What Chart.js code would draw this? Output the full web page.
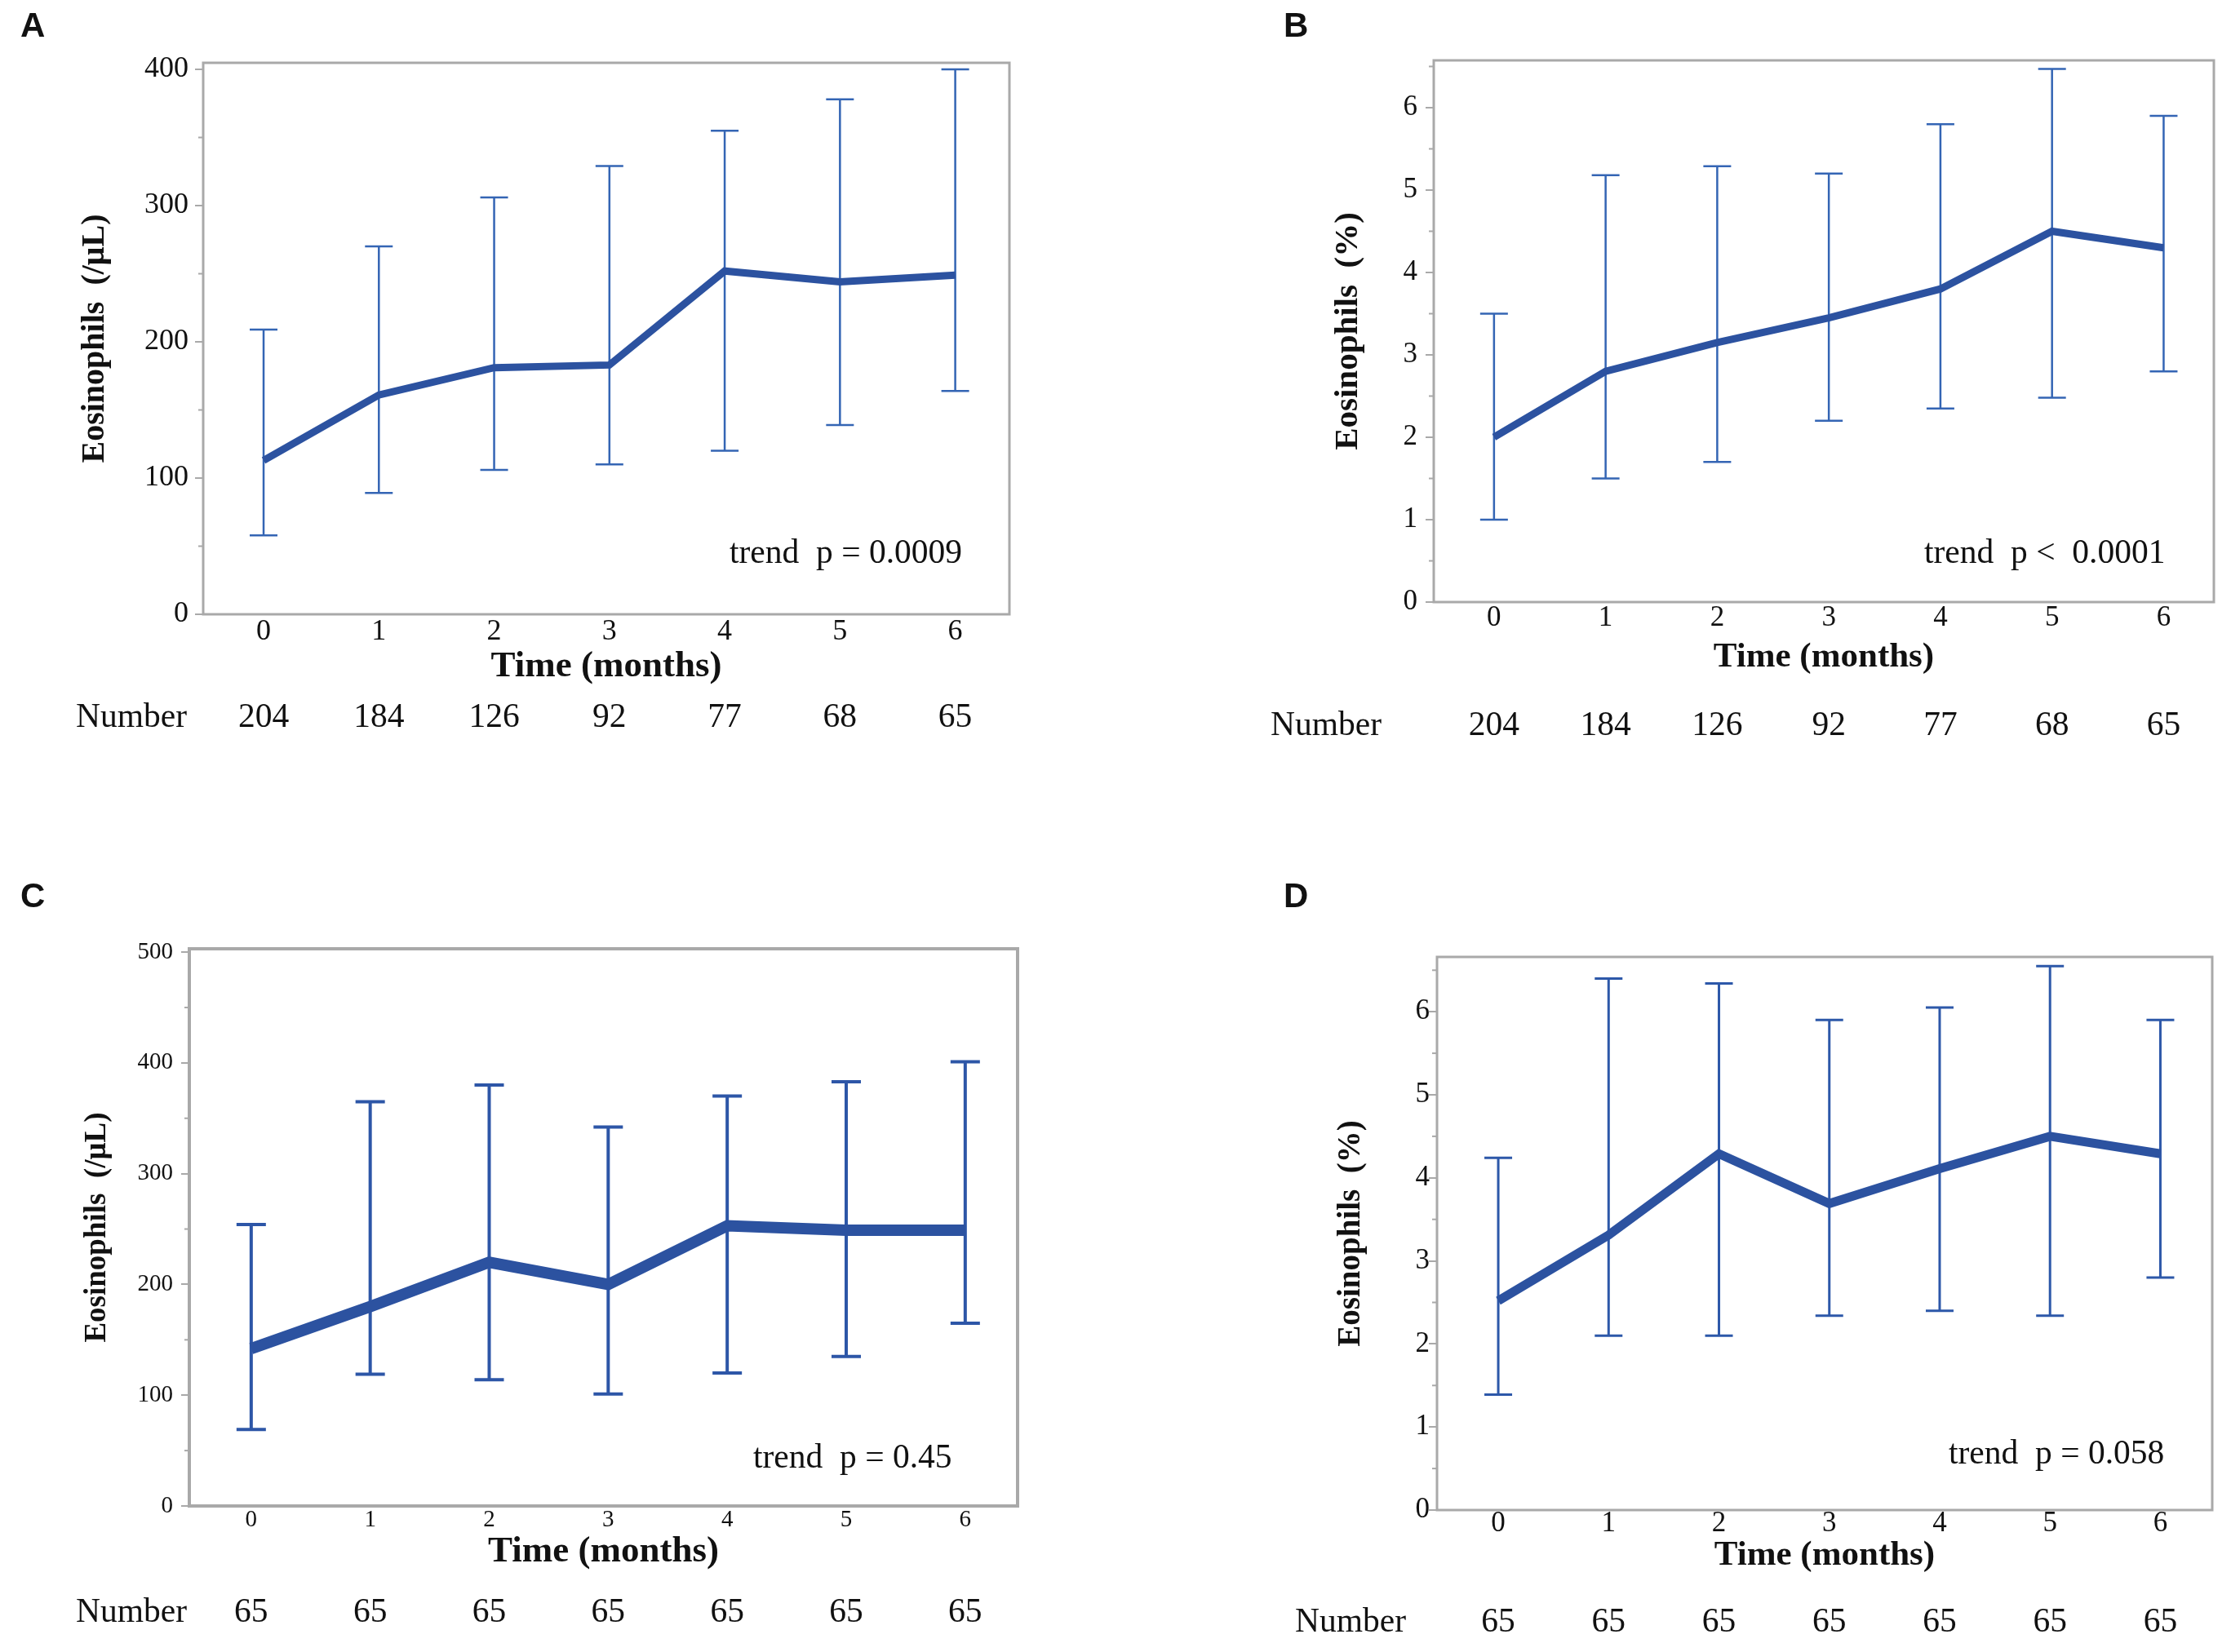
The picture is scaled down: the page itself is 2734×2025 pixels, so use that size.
<!DOCTYPE html>
<html lang="en">
<head>
<meta charset="UTF-8">
<title>Eosinophils over time</title>
<style>
  html, body { margin: 0; padding: 0; background: #fff; }
  #page { position: relative; width: 2734px; height: 2025px; overflow: hidden; }
  canvas { position: absolute; }
</style>
</head>
<body>
<div id="page">
  <canvas id="chartA"></canvas>
  <canvas id="chartB"></canvas>
  <canvas id="chartC"></canvas>
  <canvas id="chartD"></canvas>
</div>

<script src="https://cdn.jsdelivr.net/npm/chart.js@4.4.1/dist/chart.umd.min.js"></script>
<script>
// ---- data ----
const months = [0, 1, 2, 3, 4, 5, 6];
const numbersAll = [204, 184, 126, 92, 77, 68, 65];
const numbersSame = [65, 65, 65, 65, 65, 65, 65];

const countTicks = [0, 100, 200, 300, 400];
const countTicksC = [0, 100, 200, 300, 400, 500];
const pctTicks = [0, 1, 2, 3, 4, 5, 6];

// A: eosinophil count, all patients
const countMeanA = [113, 161, 181, 183, 252, 244, 249];
const countLowA  = [58, 89, 106, 110, 120, 139, 164];
const countHighA = [209, 270, 306, 329, 355, 378, 400];

// B: eosinophil %, all patients
const pctMeanB = [2.0, 2.8, 3.15, 3.45, 3.8, 4.5, 4.3];
const pctLowB  = [1.0, 1.5, 1.7, 2.2, 2.35, 2.48, 2.8];
const pctHighB = [3.5, 5.18, 5.29, 5.2, 5.8, 6.47, 5.9];

// C: eosinophil count, 65 patients followed 6 months
const countMeanC = [142, 180, 220, 200, 253, 249, 249];
const countLowC  = [69, 119, 114, 101, 120, 135, 165];
const countHighC = [254, 365, 380, 342, 370, 383, 401];

// D: eosinophil %, 65 patients
const pctMeanD = [2.52, 3.31, 4.29, 3.69, 4.11, 4.5, 4.29];
const pctLowD  = [1.39, 2.1, 2.1, 2.34, 2.4, 2.34, 2.8];
const pctHighD = [4.24, 6.4, 6.34, 5.9, 6.05, 6.55, 5.9];

const SERIF = '"Liberation Serif", "Times New Roman", serif';
const SANS = '"Liberation Sans", Arial, sans-serif';
const lineColor = '#2c52a0';
const frameColor = '#a9a9a9';
const textColor = '#111';

const panels = [
  {
    id: 'chartA', letter: 'A', box: { x: 0, y: 0, w: 1367, h: 1030 },
    frame: { l: 249, r: 1237, t: 77, b: 753 }, frameWidth: 3,
    xMin: -0.524, xMax: 6.47, yMax: 404.8, yTicks: countTicks, minorStep: 50,
    mean: countMeanA, lo: countLowA, hi: countHighA, numbers: numbersAll,
    yTitle: 'Eosinophils  (/\u03bcL)', yTitleSize: 40, yTitleX: 117,
    xTitleSize: 45, xTitleY: 817, tickSize: 36, xTickPad: -4, yTickPad: 8,
    lineWidth: 9, barWidth: 2.5, capHalf: 17, barColor: '#3465b4',
    trend: 'trend  p = 0.0009', trendX: 894, trendY: 679,
    numberX: 93, numberY: 880, letterX: 25, letterBase: 45
  },
  {
    id: 'chartB', letter: 'B', box: { x: 1367, y: 0, w: 1367, h: 1030 },
    frame: { l: 1757, r: 2713, t: 74, b: 738 }, frameWidth: 3,
    xMin: -0.54, xMax: 6.45, yMax: 6.574, yTicks: pctTicks, minorStep: 0.5,
    mean: pctMeanB, lo: pctLowB, hi: pctHighB, numbers: numbersAll,
    yTitle: 'Eosinophils  (%)', yTitleSize: 41, yTitleX: 1652,
    xTitleSize: 43, xTitleY: 806, tickSize: 35, xTickPad: -6, yTickPad: 10,
    lineWidth: 9, barWidth: 2.5, capHalf: 17, barColor: '#3465b4',
    trend: 'trend  p <  0.0001', trendX: 2358, trendY: 679,
    numberX: 1557, numberY: 890, letterX: 1573, letterBase: 45
  },
  {
    id: 'chartC', letter: 'C', box: { x: 0, y: 1030, w: 1367, h: 995 },
    frame: { l: 232, r: 1247, t: 1163, b: 1846 }, frameWidth: 4,
    xMin: -0.52, xMax: 6.44, yMax: 503, yTicks: countTicksC, minorStep: 50,
    mean: countMeanC, lo: countLowC, hi: countHighC, numbers: numbersSame,
    yTitle: 'Eosinophils  (/\u03bcL)', yTitleSize: 37, yTitleX: 119,
    xTitleSize: 45, xTitleY: 1902, tickSize: 29, xTickPad: -5, yTickPad: 10,
    lineWidth: 14, barWidth: 4, capHalf: 18, barColor: '#2d56a7',
    trend: 'trend  p = 0.45', trendX: 923, trendY: 1788,
    numberX: 93, numberY: 1977, letterX: 25, letterBase: 1112
  },
  {
    id: 'chartD', letter: 'D', box: { x: 1367, y: 1030, w: 1367, h: 995 },
    frame: { l: 1761, r: 2711, t: 1173, b: 1851 }, frameWidth: 3,
    xMin: -0.555, xMax: 6.47, yMax: 6.66, yTicks: pctTicks, minorStep: 0.5,
    mean: pctMeanD, lo: pctLowD, hi: pctHighD, numbers: numbersSame,
    yTitle: 'Eosinophils  (%)', yTitleSize: 39, yTitleX: 1656,
    xTitleSize: 43, xTitleY: 1907, tickSize: 35, xTickPad: -9, yTickPad: -1,
    lineWidth: 11, barWidth: 3, capHalf: 17, barColor: '#2d58a9',
    trend: 'trend  p = 0.058', trendX: 2388, trendY: 1783,
    numberX: 1587, numberY: 1989, letterX: 1573, letterBase: 1112
  }
];

function decorPlugin(p) {
  const ox = p.box.x, oy = p.box.y;
  return {
    id: 'decor' + p.letter,
    beforeDatasetsDraw(chart) {
      const ctx = chart.ctx, xs = chart.scales.x, ys = chart.scales.y;
      ctx.save();
      ctx.strokeStyle = p.barColor;
      ctx.lineWidth = p.barWidth;
      months.forEach((m, i) => {
        const x = xs.getPixelForValue(m);
        const yl = ys.getPixelForValue(p.lo[i]);
        const yh = ys.getPixelForValue(p.hi[i]);
        ctx.beginPath();
        ctx.moveTo(x, yl); ctx.lineTo(x, yh);
        ctx.moveTo(x - p.capHalf, yl); ctx.lineTo(x + p.capHalf, yl);
        ctx.moveTo(x - p.capHalf, yh); ctx.lineTo(x + p.capHalf, yh);
        ctx.stroke();
      });
      ctx.restore();
    },
    afterDraw(chart) {
      const ctx = chart.ctx, xs = chart.scales.x, ys = chart.scales.y;
      const a = chart.chartArea;
      ctx.save();
      // frame around the plot
      ctx.strokeStyle = frameColor;
      ctx.lineWidth = p.frameWidth;
      ctx.strokeRect(a.left, a.top, a.right - a.left, a.bottom - a.top);
      // minor ticks on y axis
      ctx.lineWidth = 2;
      for (let v = p.minorStep; v <= p.yMax; v += p.minorStep * 2) {
        const y = ys.getPixelForValue(v);
        ctx.beginPath();
        ctx.moveTo(a.left - 6, y); ctx.lineTo(a.left, y);
        ctx.stroke();
      }
      ctx.fillStyle = textColor;
      // panel letter
      ctx.font = 'bold 42px ' + SANS;
      ctx.textAlign = 'left';
      ctx.textBaseline = 'alphabetic';
      ctx.fillText(p.letter, p.letterX - ox, p.letterBase - oy);
      // trend p value
      ctx.font = '41.5px ' + SERIF;
      ctx.textBaseline = 'middle';
      ctx.fillText(p.trend, p.trendX - ox, p.trendY - oy);
      // number at risk row
      ctx.fillText('Number', p.numberX - ox, p.numberY - oy);
      ctx.textAlign = 'center';
      months.forEach((m, i) => {
        ctx.fillText(String(p.numbers[i]), xs.getPixelForValue(m), p.numberY - oy);
      });
      ctx.restore();
    }
  };
}

function buildPanel(p) {
  const canvas = document.getElementById(p.id);
  canvas.width = p.box.w;
  canvas.height = p.box.h;
  canvas.style.left = p.box.x + 'px';
  canvas.style.top = p.box.y + 'px';
  canvas.style.width = p.box.w + 'px';
  canvas.style.height = p.box.h + 'px';

  const xTitleLH = p.xTitleSize * 1.2;
  const xAxisBottom = p.xTitleY + xTitleLH / 2;
  const yTitleLH = p.yTitleSize * 1.2;

  new Chart(canvas, {
    type: 'line',
    data: {
      datasets: [{
        data: months.map((m, i) => ({ x: m, y: p.mean[i] })),
        borderColor: lineColor,
        borderWidth: p.lineWidth,
        borderJoinStyle: 'miter',
        pointRadius: 0,
        tension: 0,
        fill: false
      }]
    },
    options: {
      responsive: false,
      animation: false,
      devicePixelRatio: 1,
      layout: {
        padding: {
          left: 0,
          top: p.frame.t - p.box.y,
          right: p.box.x + p.box.w - p.frame.r,
          bottom: p.box.y + p.box.h - xAxisBottom
        }
      },
      plugins: { legend: { display: false }, tooltip: { enabled: false } },
      scales: {
        x: {
          type: 'linear', min: p.xMin, max: p.xMax,
          afterBuildTicks: s => { s.ticks = months.map(v => ({ value: v })); },
          afterFit: s => { s.height = xAxisBottom - p.frame.b; },
          grid: { display: false },
          border: { display: false },
          ticks: {
            color: textColor, padding: p.xTickPad, maxRotation: 0, autoSkip: false,
            font: { family: SERIF, size: p.tickSize, lineHeight: 1 }
          },
          title: {
            display: true, text: 'Time (months)', color: textColor,
            padding: { top: 0, bottom: 0 },
            font: { family: SERIF, size: p.xTitleSize, weight: 'bold', lineHeight: 1.2 }
          }
        },
        y: {
          type: 'linear', min: 0, max: p.yMax,
          afterBuildTicks: s => { s.ticks = p.yTicks.map(v => ({ value: v })); },
          afterFit: s => { s.width = p.frame.l - p.box.x; },
          grid: { drawOnChartArea: false, drawTicks: true, tickLength: 10, color: frameColor, lineWidth: 2 },
          border: { display: false },
          ticks: {
            color: textColor, padding: p.yTickPad, autoSkip: false,
            font: { family: SERIF, size: p.tickSize, lineHeight: 1 }
          },
          title: {
            display: true, text: p.yTitle, color: textColor,
            padding: { top: p.yTitleX - p.box.x - yTitleLH / 2, bottom: 0 },
            font: { family: SERIF, size: p.yTitleSize, weight: 'bold', lineHeight: 1.2 }
          }
        }
      }
    },
    plugins: [decorPlugin(p)]
  });
}

panels.forEach(buildPanel);
</script>
</body>
</html>
